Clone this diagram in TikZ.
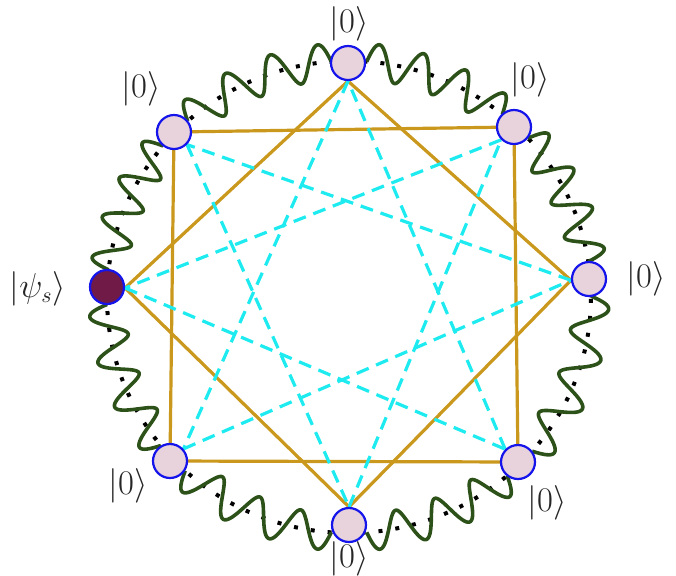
\documentclass[tikz,border=0pt]{standalone}
\definecolor{qblue}{RGB}{20,20,235}
\definecolor{qpink}{RGB}{232,210,220}
\definecolor{qdark}{RGB}{112,26,72}
\definecolor{qgold}{RGB}{201,152,28}
\definecolor{qcyan}{RGB}{30,235,240}
\definecolor{qgreen}{RGB}{45,82,25}
\pgfdeclarelayer{bg}
\pgfsetlayers{bg,main}
\begin{document}
\begin{tikzpicture}[x=0.5pt,y=0.5pt,
  qnode/.style={circle, draw=qblue, line width=1.1pt, fill=qpink, minimum size=17pt, inner sep=0pt},
  snode/.style={qnode, fill=qdark},
  goldline/.style={draw=qgold, line width=1.6pt},
  cyanline/.style={draw=qcyan, line width=1.6pt, dash pattern=on 6.5pt off 4pt},
  wave/.style={draw=qgreen, line width=1.8pt, line join=round},
  ring/.style={draw=black, line width=2pt, dash pattern=on 2pt off 6.5pt},
  ket/.style={font=\fontsize{16}{19}\selectfont, inner sep=0pt, text=black!85}]
\useasboundingbox (0,0) rectangle (676,-575);

% qubit nodes
\node[qnode] (N0) at (589,-279) {};
\node[qnode] (N1) at (514,-127) {};
\node[qnode] (N2) at (348,-63) {};
\node[qnode] (N3) at (174,-132) {};
\node[snode] (N4) at (107,-287) {};
\node[qnode] (N5) at (170,-461) {};
\node[qnode] (N6) at (349,-525) {};
\node[qnode] (N7) at (518,-462) {};

% labels
\node[ket] (L2) at (349,-24) {$|0\rangle$};
\node[ket] (L3) at (141,-89) {$|0\rangle$};
\node[ket] (L1) at (530,-80) {$|0\rangle$};
\node[ket] (L0) at (646,-279) {$|0\rangle$};
\node[ket] (L7) at (547,-503) {$|0\rangle$};
\node[ket] (L6) at (349,-559) {$|0\rangle$};
\node[ket] (L5) at (128,-486) {$|0\rangle$};
\node[ket] (L4) at (38,-289) {$|\psi_s\rangle$};

\begin{pgfonlayer}{bg}
  % dotted ring
  \draw[ring] (349,-297) ellipse [x radius=121pt, y radius=118pt];
  % wavy line, one piece between each pair of neighbouring nodes
  \foreach \s/\e in {8.6/42.3, 50.7/85.8, 94.2/131.8, 140.2/173.4, 181.8/219, 227.4/265.8, 274.2/310.8, 319.2/360.2}{
    \pgfmathsetmacro{\kk}{1260/(\e-\s)}
    \draw[wave] plot[domain=\s:\e, samples=160, smooth, variable=\t]
      ({349+(242+18*sin((\t-\s)*\kk))*cos(\t)},
       {-297+(236+18*sin((\t-\s)*\kk))*sin(\t)});
  }
  % gold square through N1 N3 N5 N7
  \draw[goldline] (N3) -- (N1);
  \draw[goldline] (N1) -- (N7);
  \draw[goldline] (N7) -- (N5);
  \draw[goldline] (N5) -- (N3);
  % gold square through N0 N2 N4 N6 (to inner points)
  \draw[goldline] (N0.184.3) -- (N2.270);
  \draw[goldline] (N2.270) -- (N4.357.6);
  \draw[goldline] (N4.357.6) -- (N6.90);
  \draw[goldline] (N6.90) -- (N0.184.3);
  % cyan dashed star
  \draw[cyanline] (N0.184.3) -- (N3.316.7);
  \draw[cyanline] (N1.225.9) -- (N4.357.6);
  \draw[cyanline] (N2.270) -- (N5.42.5);
  \draw[cyanline] (N3.316.7) -- (N6.90);
  \draw[cyanline] (N4.357.6) -- (N7.135.7);
  \draw[cyanline] (N5.42.5) -- (N0.184.3);
  \draw[cyanline] (N6.90) -- (N1.225.9);
  \draw[cyanline] (N7.135.7) -- (N2.270);
\end{pgfonlayer}
\end{tikzpicture}
\end{document}
